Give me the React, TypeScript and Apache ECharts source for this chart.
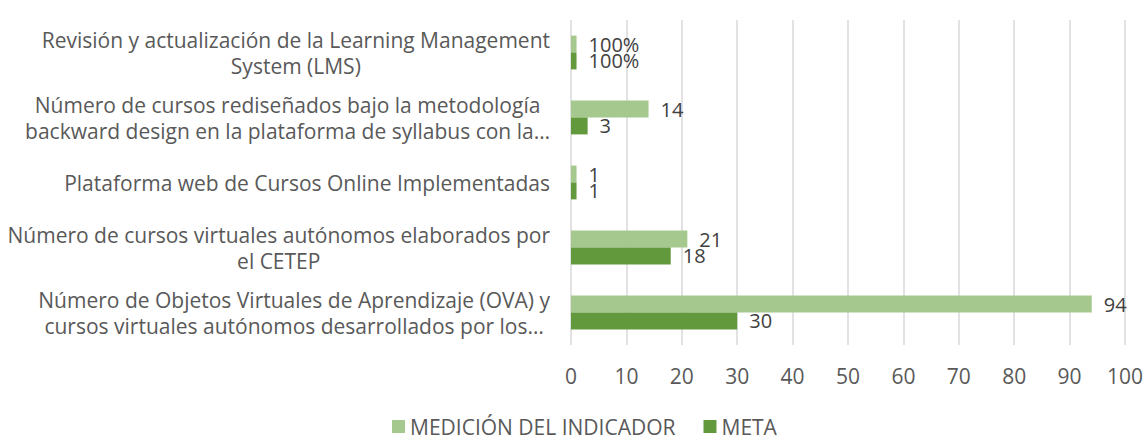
import React, { useEffect, useRef } from "react";
import * as echarts from "echarts";

// Indicators, listed top to bottom
const categories: string[] = [
  "Revisión y actualización de la Learning Management\nSystem (LMS)",
  "Número de cursos rediseñados bajo la metodología\nbackward design en la plataforma de syllabus con la…",
  "Plataforma web de Cursos Online Implementadas",
  "Número de cursos virtuales autónomos elaborados por\nel CETEP",
  "Número de Objetos Virtuales de Aprendizaje (OVA) y\ncursos virtuales autónomos desarrollados por los…",
];

// How each indicator's value is expressed (fraction shown as percent, or a count)
const valueKinds: string[] = ["percent", "count", "count", "count", "count"];

const medicion: number[] = [1, 14, 1, 21, 94];
const meta: number[] = [1, 3, 1, 18, 30];

const xTicks = { min: 0, max: 100, interval: 10 };

const FONT = "Open Sans";
const TEXT = "#595959";
const SIZE = 21;

function formatValue(v: number, idx: number): string {
  return valueKinds[idx] === "percent" ? `${Math.round(v * 100)}%` : String(v);
}

export default function App() {
  const ref = useRef<HTMLDivElement>(null);

  useEffect(() => {
    if (!ref.current) return;
    const chart = echarts.init(ref.current, null, { renderer: "svg" });

    const barLabel = {
      show: true,
      position: "right",
      distance: 12,
      color: "#404040",
      fontFamily: FONT,
      fontSize: 20,
      lineHeight: 15,
      formatter: (p: any) => formatValue(p.value, p.dataIndex),
    };

    chart.setOption({
      animation: false,
      backgroundColor: "#ffffff",
      textStyle: { fontFamily: FONT },
      grid: { left: 571, right: 16, top: 20, bottom: 95, containLabel: false },
      legend: {
        top: 416,
        left: 392,
        padding: 0,
        itemWidth: 13,
        itemHeight: 13,
        itemGap: 28,
        icon: "rect",
        textStyle: { color: TEXT, fontSize: SIZE, fontFamily: FONT },
        data: ["MEDICIÓN DEL INDICADOR", "META"],
      },
      xAxis: {
        type: "value",
        min: xTicks.min,
        max: xTicks.max,
        interval: xTicks.interval,
        axisLine: { show: false },
        axisTick: { show: false },
        splitLine: { show: true, lineStyle: { color: "#d9d9d9", width: 1.5 } },
        axisLabel: { color: TEXT, fontSize: SIZE, fontFamily: FONT, margin: 20 },
      },
      yAxis: {
        type: "category",
        inverse: true,
        data: categories,
        axisLine: { show: false },
        axisTick: { show: false },
        axisLabel: {
          margin: 21,
          align: "right",
          formatter: (v: string) =>
            v
              .split("\n")
              .map((l) => `{c|${l}}`)
              .join("\n"),
          rich: {
            c: {
              align: "center",
              color: TEXT,
              fontSize: SIZE,
              fontFamily: FONT,
              lineHeight: 26,
            },
          },
        },
      },
      series: [
        {
          name: "MEDICIÓN DEL INDICADOR",
          type: "bar",
          data: medicion,
          barGap: "0%",
          barCategoryGap: "48%",
          itemStyle: { color: "#A5C88F" },
          label: barLabel,
        },
        {
          name: "META",
          type: "bar",
          data: meta,
          barGap: "0%",
          barCategoryGap: "48%",
          itemStyle: { color: "#63993D" },
          label: barLabel,
        },
      ],
    });

    return () => chart.dispose();
  }, []);

  return (
    <div
      ref={ref}
      style={{ position: "fixed", left: 0, top: 0, width: 1146, height: 440 }}
    />
  );
}
